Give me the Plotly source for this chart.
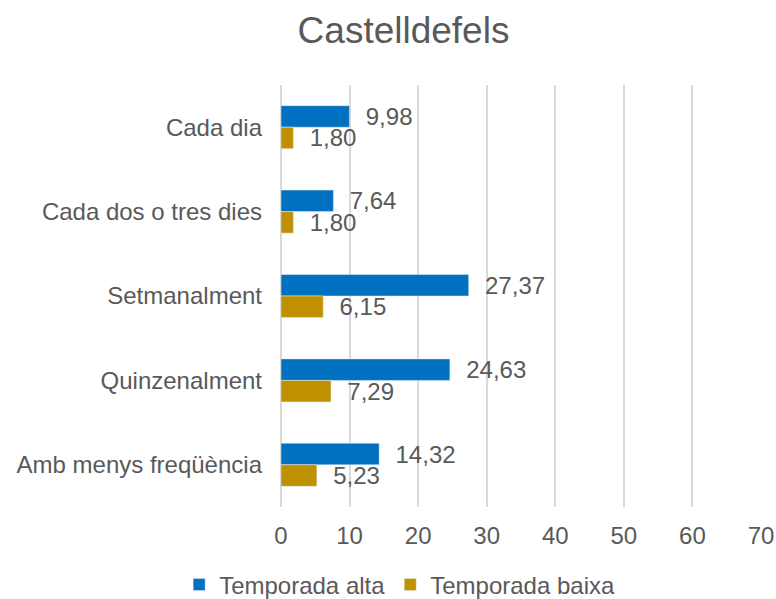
import plotly.graph_objects as go

categories = ["Cada dia", "Cada dos o tres dies", "Setmanalment", "Quinzenalment", "Amb menys freqüència"]
alta = [9.98, 7.64, 27.37, 24.63, 14.32]
baixa = [1.80, 1.80, 6.15, 7.29, 5.23]
x_ticks = [0, 10, 20, 30, 40, 50, 60, 70]

FONT = "Liberation Sans, Arial, sans-serif"
GRAY = "#595959"
FS = 24
NB = "\u00a0\u00a0"

fig = go.Figure()
fig.add_trace(go.Bar(
    y=categories, x=alta, orientation="h", name="Temporada alta",
    marker=dict(color="#0070C0"),
    texttemplate=NB + "%{x:.2f}", textposition="outside", constraintext="none",
    cliponaxis=False, textfont=dict(size=FS, color=GRAY, family=FONT),
))
fig.add_trace(go.Bar(
    y=categories, x=baixa, orientation="h", name="Temporada baixa",
    marker=dict(color="#BF9000"),
    texttemplate=NB + "%{x:.2f}", textposition="outside", constraintext="none",
    cliponaxis=False, textfont=dict(size=FS, color=GRAY, family=FONT),
))

fig.update_layout(
    width=776, height=599,
    paper_bgcolor="white", plot_bgcolor="white",
    separators=",.",
    barmode="group", bargap=0.49, bargroupgap=0,
    font=dict(family=FONT, size=FS, color=GRAY),
    title=dict(text="Castelldefels", x=0.52, xanchor="center", y=0.95, yanchor="middle",
               font=dict(size=37, color=GRAY, family=FONT)),
    margin=dict(l=281, r=15, t=85, b=92, autoexpand=False),
    legend=dict(orientation="h", xref="container", yref="container",
                x=0.515, xanchor="center", y=0.0234, yanchor="middle",
                font=dict(size=FS, color=GRAY, family=FONT), traceorder="normal",
                itemwidth=30),
    xaxis=dict(range=[0, 70], tickvals=x_ticks, showgrid=True, gridcolor="#D9D9D9", gridwidth=2,
               zeroline=True, zerolinecolor="#D9D9D9", zerolinewidth=2, showline=False,
               automargin=False, ticklabelstandoff=12,
               tickfont=dict(size=FS, color=GRAY, family=FONT), ticks=""),
    yaxis=dict(autorange="reversed", showgrid=False, zeroline=False, showline=False,
               automargin=False, ticks="", ticklabelstandoff=18,
               tickfont=dict(size=FS, color=GRAY, family=FONT)),
)

fig.write_html("out.html", config={"displayModeBar": False},
               post_script="document.body.style.margin='0';")
